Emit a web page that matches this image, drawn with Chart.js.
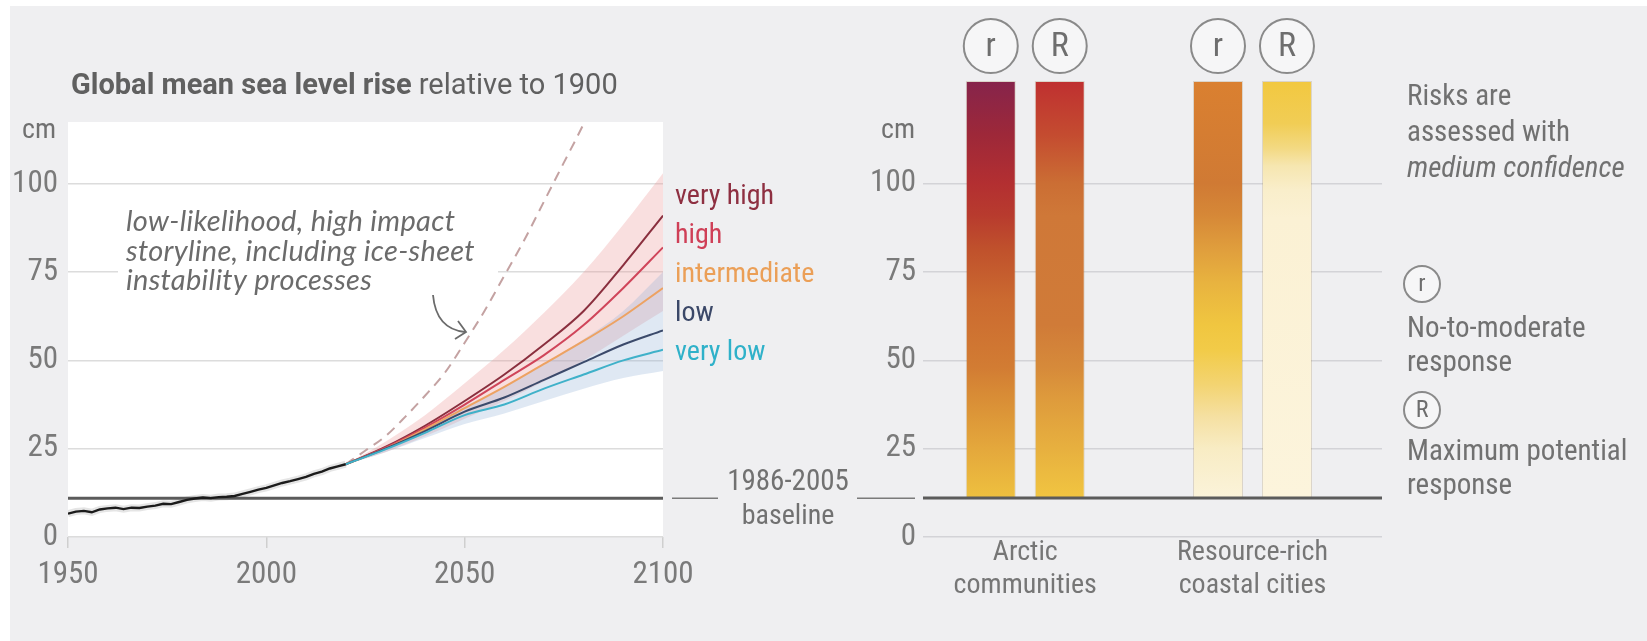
<!DOCTYPE html>
<html>
<head>
<meta charset="utf-8">
<script src="https://cdn.jsdelivr.net/npm/chart.js@4.4.1/dist/chart.umd.min.js"></script>
<style>
  html, body { margin: 0; padding: 0; background: #ffffff; }
  body { width: 1647px; height: 641px; position: relative; overflow: hidden; }
  #panel { position: absolute; left: 10px; top: 6px; right: 0; bottom: 0; background: #efeff1; }
  canvas { position: absolute; left: 0; top: 0; }
</style>
</head>
<body>
<div id="panel"></div>
<canvas id="seaLevel" width="1647" height="641"></canvas>
<canvas id="riskBars" width="1647" height="641"></canvas>
<script>
// ---- Observed global mean sea level (cm, relative to 1900) ----
const obsYears = [1950, 1952, 1954, 1956, 1958, 1960, 1962, 1964, 1966, 1968, 1970, 1972,
                  1974, 1976, 1978, 1980, 1982, 1984, 1986, 1988, 1990, 1992, 1994, 1996,
                  1998, 2000, 2002, 2004, 2006, 2008, 2010, 2012, 2014, 2016, 2018, 2020];
const obsLevel = [6.6, 7.2, 7.4, 7.0, 7.8, 8.1, 8.3, 7.9, 8.3, 8.2, 8.6, 8.9,
                  9.4, 9.3, 9.9, 10.5, 10.9, 11.2, 11.0, 11.3, 11.4, 11.6, 12.2, 12.8,
                  13.4, 13.9, 14.6, 15.3, 15.8, 16.4, 17.0, 17.9, 18.5, 19.4, 20.0, 20.6];

// ---- Projected sea level by scenario (cm) ----
const projYears    = [2020, 2030, 2040, 2050, 2060, 2070, 2080, 2090, 2100];
const veryHigh     = [20.6, 25.5, 31.5, 38.5, 46.0, 54.5, 64.0, 77.0, 91.0];
const high         = [20.6, 25.3, 31.0, 37.5, 44.5, 51.5, 60.0, 70.5, 82.0];
const intermediate = [20.6, 25.0, 30.5, 36.5, 42.5, 49.0, 55.5, 62.5, 70.5];
const low          = [20.6, 25.0, 30.0, 35.5, 39.5, 44.5, 49.5, 54.5, 58.5];
const veryLow      = [20.6, 24.8, 29.5, 34.5, 37.5, 42.0, 46.0, 50.0, 53.0];

// likely ranges: high / very high and low / very low scenarios
const highRangeUpper = [20.6, 27.0, 34.5, 43.5, 53.0, 63.5, 75.0, 88.5, 103.0];
const highRangeLower = [20.6, 24.0, 28.5, 33.5, 38.5, 44.0, 50.0, 57.0, 64.0];
const lowRangeUpper  = [20.6, 25.5, 31.0, 37.0, 42.5, 49.0, 56.0, 64.0, 75.0];
const lowRangeLower  = [20.6, 24.0, 28.0, 32.0, 35.0, 38.5, 42.0, 45.0, 47.0];

// low-likelihood, high impact storyline (ice-sheet instability)
const storyYears = [2020, 2025, 2030, 2035, 2040, 2045, 2050, 2055, 2060, 2065, 2070, 2075, 2080, 2082];
const storyLevel = [20.6, 24.5, 28.5, 34.0, 40.0, 46.5, 55.0, 64.0, 74.0, 84.0, 95.0, 106.0, 117.0, 122.0];

// 1986-2005 baseline level (cm above 1900)
const BASELINE_CM = 11;

// axis ticks
const levelTicks = [0, 25, 50, 75, 100];
const yearTicks  = [1950, 2000, 2050, 2100];

// ---- Risk panel ----
const groupLabels = [['Arctic', 'communities'], ['Resource-rich', 'coastal cities']];
const responseKeys = ['r', 'R'];
// assessed sea-level span of each bar (cm): [from, to] per group
const noToModerate     = [[BASELINE_CM, 129], [BASELINE_CM, 129]];
const maximumPotential = [[BASELINE_CM, 129], [BASELINE_CM, 129]];

// colour ramps of risk along the sea-level axis: [cm, colour]
const riskRamps = [
  [ // no-to-moderate response
    [[11, '#eec03f'], [25, '#e4a83c'], [39, '#d98e36'], [48, '#d27c33'], [67, '#cb6a30'],
     [81, '#c0522c'], [91, '#b83b2e'], [100, '#b32f31'], [114, '#9d2839'], [129, '#86244b']],
    [[11, '#fbf3da'], [25, '#f8ecc4'], [34, '#f5e0a2'], [43, '#f3d472'], [53, '#f2cb48'],
     [60, '#f0c640'], [72, '#e8b33f'], [81, '#e09f3d'], [91, '#d68837'], [100, '#d07a34'], [129, '#da8030']]
  ],
  [ // maximum potential response
    [[11, '#f1c541'], [25, '#e7b03f'], [39, '#de9b3c'], [48, '#d68a3a'], [60, '#d07b38'],
     [91, '#cf7838'], [100, '#cb6e34'], [114, '#c44b30'], [129, '#bf3030']],
    [[11, '#fcf4dc'], [90, '#fbf1d4'], [98, '#f9eecb'], [105, '#f6e6b0'], [110, '#f3d982'],
     [117, '#f1cd55'], [129, '#f2c840']]
  ]
];

// ---- shared styling ----
const COND = '"Roboto Condensed", "Liberation Sans", sans-serif';
const TITLE = 'Roboto, "Liberation Sans", sans-serif';
const HAND = 'Lato, "Open Sans", sans-serif';
const GREY_TEXT = '#717171';

const pairs = (xs, ys) => xs.map((x, i) => ({ x, y: ys[i] }));

function lineSet(label, xs, ys, color, extra) {
  return Object.assign({
    label, data: pairs(xs, ys), borderColor: color, borderWidth: 2,
    pointRadius: 0, fill: false, cubicInterpolationMode: 'monotone', order: 2
  }, extra || {});
}

// scenario labels beside the line ends
const scenarioLabels = [
  ['very high', '#8e2f41'], ['high', '#cf3f57'], ['intermediate', '#eb9f57'],
  ['low', '#3b4868'], ['very low', '#2fb1c9']
];

const seaDecor = {
  id: 'seaDecor',
  beforeDraw(chart) {
    const { ctx, chartArea: a } = chart;
    ctx.save();
    ctx.fillStyle = '#ffffff';
    ctx.fillRect(a.left, a.top, a.right - a.left, a.bottom - a.top);
    ctx.restore();
  },
  beforeDatasetsDraw(chart) {
    const { ctx, chartArea: a } = chart;
    ctx.save();
    // annotation block sits on a white card over the grid
    ctx.fillStyle = '#ffffff';
    ctx.fillRect(a.left + 50, 200, 380, 98);
    ctx.fillStyle = '#6b6b6b';
    ctx.font = 'italic 29px ' + HAND;
    ctx.letterSpacing = '0.3px';
    ctx.textBaseline = 'middle';
    ctx.textAlign = 'left';
    ['low-likelihood, high impact', 'storyline, including ice-sheet', 'instability processes']
      .forEach((t, i) => ctx.fillText(t, a.left + 58, 222 + i * 29.5));
    ctx.letterSpacing = '0px';
    // curved pointer to the storyline
    ctx.strokeStyle = '#6b6b6b';
    ctx.lineWidth = 1.8;
    ctx.beginPath();
    ctx.moveTo(433, 295);
    ctx.quadraticCurveTo(436, 329, 465, 332);
    ctx.stroke();
    ctx.beginPath();
    ctx.moveTo(458, 321);
    ctx.lineTo(466, 332);
    ctx.lineTo(455, 339);
    ctx.stroke();
    ctx.restore();
  },
  afterDraw(chart) {
    const { ctx, chartArea: a, scales } = chart;
    ctx.save();
    // title
    ctx.textBaseline = 'alphabetic';
    ctx.textAlign = 'left';
    ctx.fillStyle = '#606060';
    ctx.font = 'bold 29px ' + TITLE;
    const bold = 'Global mean sea level rise';
    ctx.fillText(bold, 71, 94);
    const w = ctx.measureText(bold).width;
    ctx.font = '29px ' + TITLE;
    ctx.fillText(' relative to 1900', 71 + w, 94);

    // unit label
    ctx.fillStyle = GREY_TEXT;
    ctx.font = '28px ' + COND;
    ctx.textAlign = 'right';
    ctx.textBaseline = 'middle';
    ctx.fillText('cm', a.left - 12, 131);

    // scenario names
    ctx.textAlign = 'left';
    ctx.font = '28px ' + COND;
    scenarioLabels.forEach(([t, c], i) => {
      ctx.fillStyle = c;
      ctx.fillText(t, a.right + 12, 197 + i * 39);
    });

    // baseline reference carried across to the risk panel
    const yb = scales.y.getPixelForValue(BASELINE_CM);
    ctx.strokeStyle = '#7a7a7a';
    ctx.lineWidth = 1.5;
    ctx.beginPath();
    ctx.moveTo(a.right + 9, yb); ctx.lineTo(a.right + 55, yb);
    ctx.moveTo(a.right + 194, yb); ctx.lineTo(a.right + 252, yb);
    ctx.stroke();
    ctx.fillStyle = GREY_TEXT;
    ctx.textAlign = 'center';
    ctx.font = '29px ' + COND;
    ctx.fillText('1986-2005', a.right + 125, yb - 15);
    ctx.font = '28px ' + COND;
    ctx.fillText('baseline', a.right + 125, yb + 19);
    ctx.restore();
  }
};

new Chart(document.getElementById('seaLevel'), {
  type: 'line',
  data: {
    datasets: [
      lineSet('observed halo', obsYears, obsLevel, 'rgba(0,0,0,0.10)', { borderWidth: 7, cubicInterpolationMode: 'default', tension: 0, order: 4 }),
      lineSet('observed', obsYears, obsLevel, '#1b1b1b', { borderWidth: 2.4, cubicInterpolationMode: 'default', tension: 0, order: 0 }),
      lineSet('1986-2005 baseline', [yearTicks[0], yearTicks[yearTicks.length - 1]], [BASELINE_CM, BASELINE_CM], '#5b5b5b', { borderWidth: 3, order: 1 }),
      lineSet('very low', projYears, veryLow, '#3fb1c9'),
      lineSet('low', projYears, low, '#3b4a6b'),
      lineSet('intermediate', projYears, intermediate, '#eda262'),
      lineSet('high', projYears, high, '#d0455a'),
      lineSet('very high', projYears, veryHigh, '#8a2f3e'),
      lineSet('storyline', storyYears, storyLevel, '#c4a2a2', { borderDash: [10, 7], clip: 0 }),
      lineSet('high range lower', projYears, highRangeLower, 'transparent', { borderWidth: 0, order: 10 }),
      lineSet('high range upper', projYears, highRangeUpper, 'transparent', { borderWidth: 0, order: 10, fill: '-1', backgroundColor: 'rgba(236,150,150,0.30)' }),
      lineSet('low range lower', projYears, lowRangeLower, 'transparent', { borderWidth: 0, order: 9 }),
      lineSet('low range upper', projYears, lowRangeUpper, 'transparent', { borderWidth: 0, order: 9, fill: '-1', backgroundColor: 'rgba(150,180,215,0.30)' })
    ]
  },
  options: {
    responsive: false,
    animation: false,
    devicePixelRatio: 1,
    layout: { padding: { left: 0, top: 122, right: 1647 - 663, bottom: 44 } },
    plugins: { legend: { display: false }, tooltip: { enabled: false } },
    scales: {
      x: {
        type: 'linear', min: yearTicks[0], max: yearTicks[yearTicks.length - 1],
        afterBuildTicks: s => { s.ticks = yearTicks.map(v => ({ value: v })); },
        afterFit: s => { s.height = 60; },
        ticks: { callback: v => String(v), color: '#7a7a7a', font: { family: COND, size: 31 }, padding: 9, maxRotation: 0, autoSkip: false },
        grid: { drawOnChartArea: false, drawTicks: true, tickLength: 11, color: '#cfcfcf', lineWidth: 1.5 },
        border: { display: false }
      },
      y: {
        min: 0, max: 117.5,
        afterBuildTicks: s => { s.ticks = levelTicks.map(v => ({ value: v })); },
        afterFit: s => { s.width = 68; },
        ticks: { color: '#7a7a7a', font: { family: COND, size: 31 }, padding: 10 },
        grid: { color: '#dcdcdc', lineWidth: 1.5, drawTicks: false },
        border: { display: false }
      }
    }
  },
  plugins: [seaDecor]
});

// ---- risk panel ----
function riskFill(ctx) {
  const chart = ctx.chart;
  if (!chart.chartArea || ctx.type !== 'data') return '#e0a040';
  const y = chart.scales.y;
  const span = ctx.raw.y;
  const ramp = riskRamps[ctx.datasetIndex][ctx.dataIndex];
  const y0 = y.getPixelForValue(span[0]);
  const y1 = y.getPixelForValue(span[1]);
  const g = chart.ctx.createLinearGradient(0, y0, 0, y1);
  ramp.forEach(([v, c]) => {
    const t = Math.min(1, Math.max(0, (v - span[0]) / (span[1] - span[0])));
    g.addColorStop(t, c);
  });
  return g;
}

function drawMarker(ctx, x, y, r, letter, size) {
  ctx.save();
  ctx.beginPath();
  ctx.arc(x, y, r, 0, Math.PI * 2);
  ctx.fillStyle = '#f6f6f7';
  ctx.fill();
  ctx.lineWidth = 2;
  ctx.strokeStyle = '#8a8a8a';
  ctx.stroke();
  ctx.fillStyle = '#6e6e6e';
  ctx.font = size + 'px ' + COND;
  ctx.textAlign = 'center';
  ctx.textBaseline = 'middle';
  ctx.fillText(letter, x, y + 1);
  ctx.restore();
}

const riskDecor = {
  id: 'riskDecor',
  afterDatasetsDraw(chart) {
    const { ctx, chartArea: a, scales } = chart;
    ctx.save();
    // baseline
    const yb = scales.y.getPixelForValue(BASELINE_CM);
    ctx.strokeStyle = '#5b5b5b';
    ctx.lineWidth = 3;
    ctx.beginPath();
    ctx.moveTo(a.left, yb); ctx.lineTo(a.right, yb);
    ctx.stroke();
    // response markers above each bar
    chart.data.datasets.forEach((ds, di) => {
      chart.getDatasetMeta(di).data.forEach(bar => {
        drawMarker(ctx, bar.x, bar.y - 35, 27, responseKeys[di], 34);
      });
    });
    ctx.restore();
  },
  afterDraw(chart) {
    const { ctx, chartArea: a } = chart;
    ctx.save();
    ctx.fillStyle = GREY_TEXT;
    ctx.font = '28px ' + COND;
    ctx.textAlign = 'right';
    ctx.textBaseline = 'middle';
    ctx.fillText('cm', a.left - 8, 131);

    // key
    const kx = 1407;
    const text = (t, y, style) => {
      ctx.fillStyle = GREY_TEXT;
      ctx.font = (style || '') + ' 29px ' + COND;
      ctx.textAlign = 'left';
      ctx.textBaseline = 'alphabetic';
      ctx.fillText(t, kx, y);
    };
    text('Risks are', 105);
    text('assessed with', 141);
    text('medium confidence', 177, 'italic');
    drawMarker(ctx, kx + 15, 284, 18, 'r', 24);
    text('No-to-moderate', 337);
    text('response', 371);
    drawMarker(ctx, kx + 15, 410, 18, 'R', 24);
    text('Maximum potential', 460);
    text('response', 494);
    ctx.restore();
  }
};

new Chart(document.getElementById('riskBars'), {
  type: 'bar',
  data: {
    datasets: [
      { label: 'No-to-moderate response', data: noToModerate.map((v, i) => ({ x: i, y: v })),
        backgroundColor: riskFill, borderColor: 'rgba(150,120,60,0.22)', borderWidth: 1, borderSkipped: false },
      { label: 'Maximum potential response', data: maximumPotential.map((v, i) => ({ x: i, y: v })),
        backgroundColor: riskFill, borderColor: 'rgba(150,120,60,0.22)', borderWidth: 1, borderSkipped: false }
    ]
  },
  options: {
    responsive: false,
    animation: false,
    devicePixelRatio: 1,
    categoryPercentage: 0.607,
    barPercentage: 0.725,
    layout: { padding: { left: 863, top: 81, right: 1647 - 1382, bottom: 44 } },
    plugins: { legend: { display: false }, tooltip: { enabled: false } },
    scales: {
      x: {
        type: 'linear', min: -0.45, max: 1.57, offset: false,
        afterBuildTicks: s => { s.ticks = groupLabels.map((g, i) => ({ value: i })); },
        afterFit: s => { s.height = 60; },
        ticks: { callback: v => groupLabels[v], color: '#767676', font: { family: COND, size: 28, lineHeight: 1.17 }, padding: 0, maxRotation: 0, autoSkip: false },
        grid: { display: false, drawTicks: false },
        border: { display: false }
      },
      y: {
        min: 0, max: 129,
        afterBuildTicks: s => { s.ticks = levelTicks.map(v => ({ value: v })); },
        afterFit: s => { s.width = 60; },
        ticks: { color: '#7a7a7a', font: { family: COND, size: 31 }, padding: 7 },
        grid: { color: '#d3d3d7', lineWidth: 1.5, drawTicks: false },
        border: { display: false }
      }
    }
  },
  plugins: [riskDecor]
});
</script>
</body>
</html>
